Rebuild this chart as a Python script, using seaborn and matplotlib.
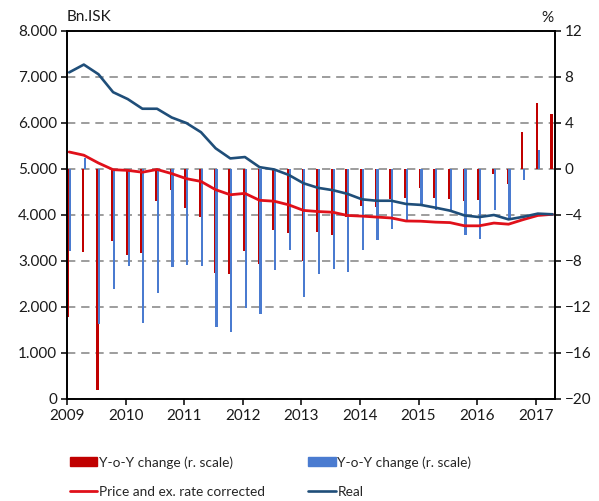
import matplotlib
matplotlib.use("Agg")
import matplotlib.pyplot as plt
import matplotlib.ticker as mticker
from matplotlib.patches import Patch
from matplotlib.lines import Line2D
import numpy as np
import seaborn as sns

# quarterly data, 2009Q1 - 2017Q2
quarters = [f"{y}Q{q}" for y in range(2009, 2018) for q in range(1, 5)][:34]

# left scale, bn. ISK
real = [7100, 7270, 7060, 6670, 6520, 6310, 6310, 6120, 6000, 5800,
        5450, 5230, 5260, 5040, 4990, 4870, 4690, 4590, 4540, 4460,
        4340, 4310, 4310, 4240, 4220, 4160, 4095, 3990, 3955, 4000,
        3905, 3960, 4030, 4015]
corrected = [5370, 5300, 5130, 4985, 4970, 4930, 4990, 4900, 4790, 4730,
             4550, 4440, 4470, 4320, 4300, 4220, 4100, 4075, 4060, 3990,
             3975, 3955, 3935, 3870, 3865, 3845, 3835, 3765, 3765, 3825,
             3800, 3900, 3990, 4015]

# right scale, y-o-y change %
yoy_corrected = [-12.9, -7.25, -19.2, -6.3, -7.45, -7.3, -2.8, -1.8, -3.4, -4.2,
                 -9.05, -9.1, -7.1, -8.25, -5.27, -5.6, -8.0, -5.47, -5.73, -4.2,
                 -3.2, -3.3, -2.6, -2.5, -1.65, -2.5, -2.6, -2.75, -2.7, -0.4,
                 -1.3, 3.2, 5.7, 4.75]
yoy_real = [-7.1, 1.0, -13.45, -10.45, -8.4, -13.4, -10.8, -8.55, -8.35, -8.4,
            -13.7, -14.2, -12.1, -12.65, -8.8, -7.03, -11.1, -9.1, -8.7, -8.96,
            -7.05, -6.15, -5.2, -4.6, -3.12, -3.6, -3.6, -5.75, -6.1, -3.6,
            -4.4, -0.95, 1.65, 0.0]

years = list(range(2009, 2018))

RED_BAR = "#C00000"
BLUE_BAR = "#4A7BD0"
RED_LINE = "#E0101A"
REAL_LINE = "#1F4E79"

sns.set_style("white")
plt.rcParams['font.family'] = ['Lato', 'DejaVu Sans']
plt.rcParams['font.size'] = 11

x = np.array([int(q[:4]) + (int(q[-1]) - 1) * 0.25 for q in quarters]) + 0.037

fig = plt.figure(figsize=(5.99, 5.01), dpi=100)
ax = fig.add_axes([67/599, 1 - 399/501, (555 - 67)/599, (399 - 31)/501])
ax2 = ax.twinx()

# bars on the right scale, behind the lines
ax2.bar(x - 0.015, yoy_corrected, width=0.038, color=RED_BAR, linewidth=0)
ax2.bar(x + 0.015, yoy_real, width=0.038, color=BLUE_BAR, linewidth=0)
ax2.set_ylim(-20, 12)
ax2.set_yticks(range(-20, 13, 4))
ax2.yaxis.grid(True, linestyle=(0, (5, 3.5)), color="#8c8c8c", linewidth=1.2)
ax2.set_axisbelow(True)

sns.lineplot(x=x, y=corrected, ax=ax, color=RED_LINE, linewidth=2.0, legend=False)
sns.lineplot(x=x, y=real, ax=ax, color=REAL_LINE, linewidth=1.9, legend=False)
ax.set_ylim(0, 8000)
ax.set_yticks(range(0, 8001, 1000))
ax.yaxis.set_major_formatter(mticker.FuncFormatter(lambda v, p: f"{v:,.0f}".replace(",", ".")))
ax.set_xlim(2009, 2017.33)
ax.set_xticks(years)
ax.set_xticklabels([str(y) for y in years])

ax.set_zorder(2)
ax2.set_zorder(1)
ax.patch.set_visible(False)

for a in (ax, ax2):
    for s in a.spines.values():
        s.set_color("black")
        s.set_linewidth(1.2)
ax.tick_params(axis="both", direction="out", length=4, width=1.1, color="black",
               labelsize=11, labelcolor="#1a1a1a", left=True, bottom=True, pad=3)
ax2.tick_params(axis="y", direction="out", length=4, width=1.1, color="black",
                labelsize=11, labelcolor="#1a1a1a", right=True, pad=3)

fig.text(67/599, 1 - 17/501, "Bn.ISK", ha="left", va="center", fontsize=11, color="#1a1a1a")
fig.text(553/599, 1 - 18/501, "%", ha="right", va="center", fontsize=11, color="#1a1a1a")

handles = [Patch(color=RED_BAR), Line2D([], [], color=RED_LINE, linewidth=2.0),
           Patch(color=BLUE_BAR), Line2D([], [], color=REAL_LINE, linewidth=1.9)]
labels = ["Y-o-Y change (r. scale)", "Price and ex. rate corrected",
          "Y-o-Y change (r. scale)", "Real"]
fig.legend(handles, labels, ncol=2, loc="upper left", bbox_to_anchor=(70/599, 1 - 456/501),
           frameon=False, fontsize=9.8, handlelength=2.0, handleheight=0.6,
           handletextpad=0.12, columnspacing=3.2, labelspacing=1.25,
           borderpad=0, borderaxespad=0)

fig.savefig("out.png", dpi=100)
